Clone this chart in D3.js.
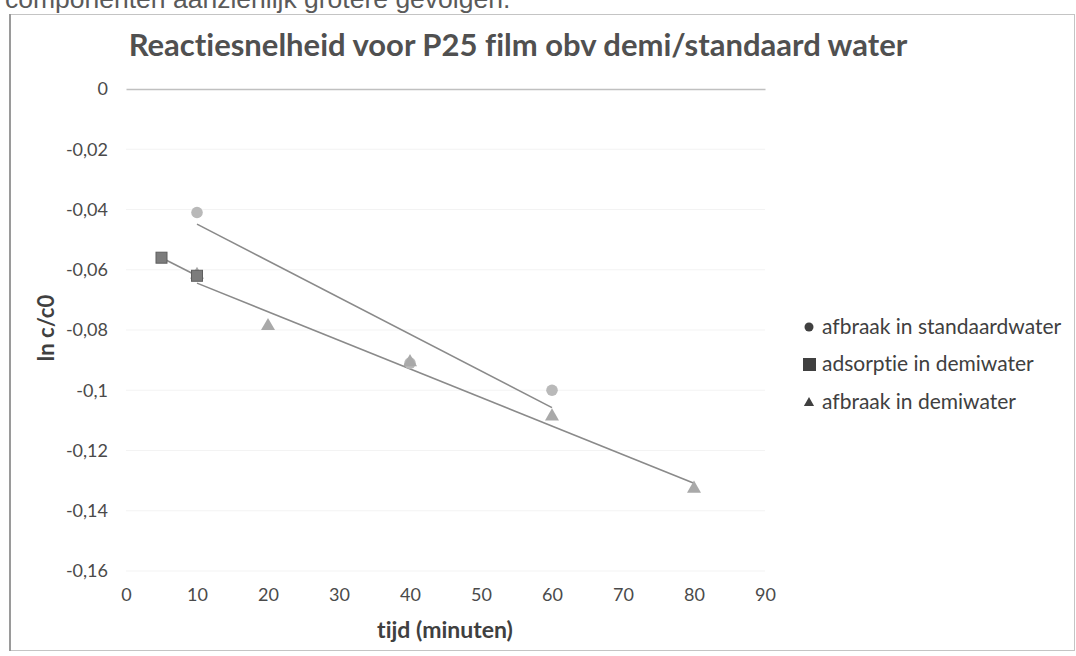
<!DOCTYPE html>
<html>
<head>
<meta charset="utf-8">
<script src="https://cdn.jsdelivr.net/npm/d3@7/dist/d3.min.js"></script>
<style>
  html, body { margin: 0; padding: 0; background: #ffffff; }
  svg { display: block; }
  text { font-variant-ligatures: none; font-feature-settings: "liga" 0, "clig" 0; }
</style>
</head>
<body>
<svg id="chart" width="1076" height="656"></svg>
<script>
// ---- data ----
const pageText = "componenten aanzienlijk grotere gevolgen.";
const chartTitle = "Reactiesnelheid voor P25 film obv demi/standaard water";
const xAxisTitle = "tijd (minuten)";
const yAxisTitle = "ln c/c0";
const xTickValues = [0, 10, 20, 30, 40, 50, 60, 70, 80, 90];
const yTickValues = [0, -0.02, -0.04, -0.06, -0.08, -0.1, -0.12, -0.14, -0.16];
const seriesNames = ["afbraak in standaardwater", "adsorptie in demiwater", "afbraak in demiwater"];
const standaardX = [10, 40, 60];
const standaardY = [-0.041, -0.091, -0.100];
const adsorptieX = [5, 10];
const adsorptieY = [-0.056, -0.062];
const demiX = [10, 20, 40, 60, 80];
const demiY = [-0.062, -0.079, -0.091, -0.109, -0.133];

// ---- layout ----
const svg = d3.select("#chart");
const plot = { left: 126, right: 765, top: 89, bottom: 571 };
const x = d3.scaleLinear().domain([0, 90]).range([plot.left, plot.right]);
const y = d3.scaleLinear().domain([0, -0.16]).range([plot.top, plot.bottom]);
const fmt = v => (v === 0 ? "0" : String(+v.toFixed(2)).replace(".", ",").replace("\u2212", "-"));

// page text cut off at the top
svg.append("text")
  .attr("x", 5).attr("y", 8)
  .attr("font-family", "Liberation Sans, Arial, sans-serif")
  .attr("font-size", 26.5)
  .attr("fill", "#5a5a5a")
  .text(pageText);

// chart frame
svg.append("rect")
  .attr("x", 9.5).attr("y", 14.5).attr("width", 1065).attr("height", 636)
  .attr("fill", "none").attr("stroke", "#c4c4c4").attr("stroke-width", 1);
svg.append("line")
  .attr("x1", 10).attr("x2", 10).attr("y1", 14).attr("y2", 651)
  .attr("stroke", "#9a9a9a").attr("stroke-width", 2);

// title
svg.append("text")
  .attr("x", 518).attr("y", 56)
  .attr("text-anchor", "middle")
  .attr("font-family", "Lato, sans-serif")
  .attr("font-weight", "bold")
  .attr("font-size", 31)
  .attr("fill", "#505050")
  .text(chartTitle);

// faint gridlines
svg.append("g").selectAll("line").data(yTickValues.slice(1)).join("line")
  .attr("x1", plot.left).attr("x2", plot.right)
  .attr("y1", d => y(d)).attr("y2", d => y(d))
  .attr("stroke", "#f3f3f3").attr("stroke-width", 1);

// horizontal axis line at y = 0
const xAxis = d3.axisTop(x).tickValues(xTickValues).tickSize(0).tickFormat("");
const gx = svg.append("g").attr("transform", `translate(0,${y(0)})`).call(xAxis);
gx.select(".domain").attr("stroke", "#c0c0c0").attr("stroke-width", 1.5);

// x tick labels at the bottom
const xLabels = d3.axisBottom(x).tickValues(xTickValues).tickSize(0).tickPadding(0).tickFormat(d => d);
const gxl = svg.append("g").attr("transform", `translate(0,${plot.bottom + 17})`).call(xLabels);
gxl.select(".domain").remove();
gxl.selectAll("text")
  .attr("font-family", "Lato, sans-serif").attr("font-size", 18).attr("fill", "#4a4a4a");

// y axis labels
const yAxis = d3.axisLeft(y).tickValues(yTickValues).tickSize(0).tickPadding(0).tickFormat(fmt);
const gy = svg.append("g").attr("transform", `translate(${plot.left - 18},0)`).call(yAxis);
gy.select(".domain").remove();
gy.selectAll("text")
  .attr("font-family", "Lato, sans-serif").attr("font-size", 18).attr("fill", "#4a4a4a");

// axis titles
svg.append("text")
  .attr("x", 445).attr("y", 638)
  .attr("text-anchor", "middle")
  .attr("font-family", "Lato, sans-serif").attr("font-weight", "bold")
  .attr("font-size", 23).attr("fill", "#404040")
  .text(xAxisTitle);
svg.append("text")
  .attr("transform", "translate(54,328) rotate(-90)")
  .attr("text-anchor", "middle")
  .attr("font-family", "Lato, sans-serif").attr("font-weight", "bold")
  .attr("font-size", 22).attr("fill", "#404040")
  .text(yAxisTitle);

// linear trend lines
function trend(xs, ys) {
  const mx = d3.mean(xs), my = d3.mean(ys);
  let sxy = 0, sxx = 0;
  xs.forEach((xv, i) => { sxy += (xv - mx) * (ys[i] - my); sxx += (xv - mx) ** 2; });
  const b = sxy / sxx, a = my - b * mx;
  const [x0, x1] = d3.extent(xs);
  return [[x0, a + b * x0], [x1, a + b * x1]];
}
const line = d3.line().x(d => x(d[0])).y(d => y(d[1]));
[[standaardX, standaardY], [adsorptieX, adsorptieY], [demiX, demiY]].forEach(([xs, ys]) => {
  svg.append("path")
    .attr("d", line(trend(xs, ys)))
    .attr("fill", "none").attr("stroke", "#8a8a8a").attr("stroke-width", 1.6);
});

// markers: circles, triangles, squares (squares on top)
const zip = (xs, ys) => xs.map((v, i) => [v, ys[i]]);
svg.append("g").selectAll("circle").data(zip(standaardX, standaardY)).join("circle")
  .attr("cx", d => x(d[0])).attr("cy", d => y(d[1])).attr("r", 5.8)
  .attr("fill", "#b9b9b9");
const tri = d3.symbol().type(d3.symbolTriangle).size(85);
svg.append("g").selectAll("path").data(zip(demiX, demiY)).join("path")
  .attr("d", tri)
  .attr("transform", d => `translate(${x(d[0])},${y(d[1]) - 1})`)
  .attr("fill", "#a9a9a9");
svg.append("g").selectAll("rect").data(zip(adsorptieX, adsorptieY)).join("rect")
  .attr("x", d => x(d[0]) - 5.5).attr("y", d => y(d[1]) - 5.5)
  .attr("width", 11).attr("height", 11)
  .attr("fill", "#7c7c7c").attr("stroke", "#5e5e5e").attr("stroke-width", 1);

// legend
const legendRows = [327, 364, 402];
const lg = svg.append("g");
seriesNames.forEach((name, i) => {
  const cy = legendRows[i];
  if (i === 0) lg.append("circle").attr("cx", 809).attr("cy", cy).attr("r", 4.5).attr("fill", "#404040");
  if (i === 1) lg.append("rect").attr("x", 803).attr("y", cy - 6).attr("width", 13).attr("height", 13).attr("fill", "#404040");
  if (i === 2) lg.append("path").attr("d", d3.symbol().type(d3.symbolTriangle).size(45))
                 .attr("transform", `translate(809,${cy + 1})`).attr("fill", "#404040");
  lg.append("text")
    .attr("x", 822).attr("y", cy + 7)
    .attr("font-family", "Lato, sans-serif").attr("font-size", 21).attr("fill", "#404040")
    .text(name);
});
</script>
</body>
</html>
